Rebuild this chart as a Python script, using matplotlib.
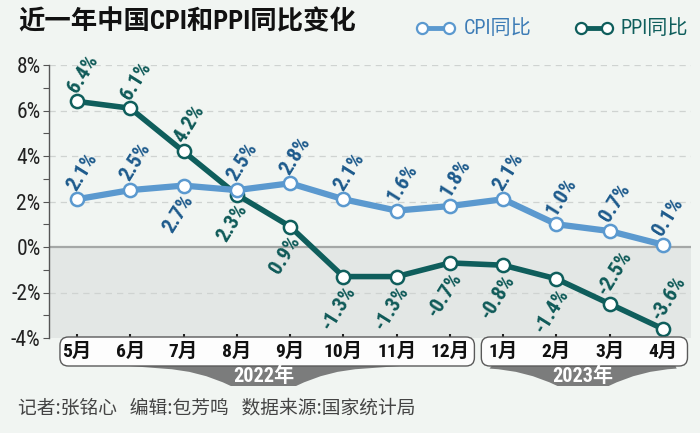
import matplotlib
matplotlib.use("Agg")
import matplotlib.pyplot as plt
from matplotlib.lines import Line2D
from matplotlib.patches import FancyBboxPatch, PathPatch
from matplotlib.path import Path

# ---- data ----
months = ["5月", "6月", "7月", "8月", "9月", "10月", "11月", "12月", "1月", "2月", "3月", "4月"]
cpi = [2.1, 2.5, 2.7, 2.5, 2.8, 2.1, 1.6, 1.8, 2.1, 1.0, 0.7, 0.1]
ppi = [6.4, 6.1, 4.2, 2.3, 0.9, -1.3, -1.3, -0.7, -0.8, -1.4, -2.5, -3.6]
# label placement: True = above the point, False = below
cpi_above = [True, True, False, True, True, True, True, True, True, True, True, True]
ppi_above = [True, True, True, False, False, False, False, False, False, False, True, True]
year_groups = [("2022年", 0, 7), ("2023年", 8, 11)]
yticks = [-4, -2, 0, 2, 4, 6, 8]

BG = "#f1f5f2"
CPI_C = "#5b99cf"
PPI_C = "#0f5e5c"
CPI_TXT = "#1d5a8c"
PPI_TXT = "#0f5a58"

NARROW = ["Roboto Condensed", "Noto Sans CJK SC", "DejaVu Sans"]
CJK = ["Noto Sans CJK SC", "DejaVu Sans"]
plt.rcParams["font.family"] = NARROW

W, H = 700, 433
fig = plt.figure(figsize=(7, 4.33), dpi=100, facecolor=BG)
ax_l, ax_r, ax_b, ax_t = 49 / W, 691 / W, 1 - 338 / H, 1 - 65 / H
ax = fig.add_axes([ax_l, ax_b, ax_r - ax_l, ax_t - ax_b])
ax.set_facecolor(BG)

x = list(range(len(months)))
xmin, xmax = -0.526, 11.526
ax.set_xlim(xmin, xmax)
ax.set_ylim(-4, 8)

# negative zone + grid
ax.axhspan(-4, 0, color="#e3e7e5", zorder=0)
for v in yticks:
    if v == 0:
        ax.axhline(0, color="#a5a8a7", lw=1.6, zorder=1)
    elif v > -4:
        ax.axhline(v, color="#cfd3d1", lw=0.9, ls=(0, (5, 4)), zorder=1)

ax.plot(x, ppi, color=PPI_C, lw=4, marker="o", ms=9.5, mfc="white",
        mec=PPI_C, mew=1.8, zorder=4)
ax.plot(x, cpi, color=CPI_C, lw=4.5, marker="o", ms=9.5, mfc="white",
        mec=CPI_C, mew=1.8, zorder=5)

def put_labels(vals, above, color):
    for xi, v, up in zip(x, vals, above):
        if up:
            off, va = (4, 4), "bottom"
        else:
            off, va = (-3.5, -4.5), "top"
        ax.annotate(f"{v:.1f}%", (xi, v), xytext=off, textcoords="offset points",
                    rotation=58, ha="center", va=va, fontsize=15,
                    fontweight="bold", fontstyle="normal", color=color, zorder=6)

put_labels(cpi, cpi_above, CPI_TXT)
put_labels(ppi, ppi_above, PPI_TXT)

# axes styling
for s in ["top", "right", "bottom"]:
    ax.spines[s].set_visible(False)
ax.spines["left"].set_color("#555555")
ax.spines["left"].set_linewidth(1)
ax.set_yticks(yticks)
ax.set_yticklabels([f"{v}%" for v in yticks])
ax.set_yticks(range(-3, 8, 2), minor=True)
ax.tick_params(axis="y", which="major", length=4, width=0.8, color="#555555",
               labelsize=15.5, labelcolor="#222222", pad=2)
ax.tick_params(axis="y", which="minor", length=4, width=0.8, color="#555555")
ax.set_xticks(x)
ax.tick_params(axis="x", length=3, width=1.5, color="#222222", direction="in",
               labelbottom=False)

# x axis month boxes
def fx(v):
    return ax_l + (v - xmin) / (xmax - xmin) * (ax_r - ax_l)

box_top, box_bot = 1 - 337 / H, 1 - 366 / H
tab_bot = 1 - 386 / H
for name, i0, i1 in year_groups:
    left = fx(i0 - 0.32) if i0 == 0 else fx(i0 - 0.41)
    right = fx(i1 + 0.46)
    cx = (fx(i0) + fx(i1)) / 2
    half = 0.058 if i0 == 0 else 0.048
    fl = 40 / W
    verts = [(left + 0.02, box_bot + 0.01), (cx - half - fl * 1.5, box_bot - 0.006),
             (cx - half - fl * 0.6, box_bot - 0.01), (cx - half + fl * 0.2, tab_bot),
             (cx + half - fl * 0.2, tab_bot),
             (cx + half + fl * 0.6, box_bot - 0.01), (cx + half + fl * 1.5, box_bot - 0.006),
             (right - 0.02, box_bot + 0.01), (left + 0.02, box_bot + 0.01)]
    codes = [Path.MOVETO, Path.LINETO, Path.CURVE3, Path.CURVE3, Path.LINETO,
             Path.CURVE3, Path.CURVE3, Path.LINETO, Path.CLOSEPOLY]
    fig.add_artist(PathPatch(Path(verts, codes), transform=fig.transFigure,
                             facecolor="#7b7c7c", edgecolor="none", zorder=1))
    fig.add_artist(FancyBboxPatch((left, box_bot), right - left, box_top - box_bot,
                                  boxstyle="round,pad=0,rounding_size=0.012",
                                  mutation_aspect=W / H,
                                  transform=fig.transFigure, facecolor="#fdfdfd",
                                  edgecolor="#5a5a5a", lw=1, zorder=2))
    fig.text(cx, 1 - 376 / H, name, ha="center", va="center", fontsize=14.5,
             fontweight="bold", color="white", zorder=3)

for xi, m in zip(x, months):
    fig.text(fx(xi), 1 - 352 / H, m, ha="center", va="center", fontsize=14,
             fontweight="bold", color="#111111", zorder=3)

# title, legend, footer
fig.text(18 / W, 1 - 22 / H, "近一年中国CPI和PPI同比变化", ha="left", va="center",
         fontsize=19, fontweight="bold", color="#111111")

leg_y = 1 - 28 / H
for (x0, x1, tx), col, tcol, lab in [((417, 454, 464), CPI_C, "#3d7cb6", "CPI同比"),
                                     ((576, 612, 620), PPI_C, PPI_C, "PPI同比")]:
    fig.add_artist(Line2D([(x0 + 5) / W, (x1 - 5) / W], [leg_y, leg_y],
                          transform=fig.transFigure, color=col, lw=3.5,
                          marker="o", ms=8, mfc="white", mec=col, mew=1.6))
    fig.text(tx / W, leg_y, lab, ha="left", va="center", fontsize=14.5,
             color=tcol)

fig.text(18 / W, 1 - 408 / H, "记者:张铭心   编辑:包芳鸣   数据来源:国家统计局",
         ha="left", va="center", fontsize=13.5, color="#444444", family=CJK)

fig.savefig("out.png", dpi=100, facecolor=BG)
